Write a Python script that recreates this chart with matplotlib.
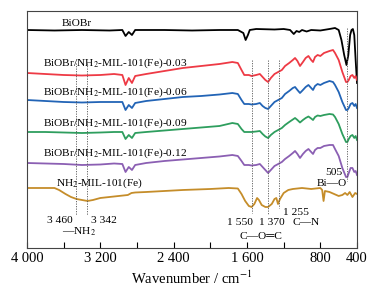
import numpy as np
import matplotlib
matplotlib.use("Agg")
import matplotlib.pyplot as plt

plt.rcParams["font.family"] = ["Liberation Serif", "DejaVu Serif"]
plt.rcParams["mathtext.fontset"] = "stix"

# FTIR spectra, stacked (arbitrary units, higher = more transmittance)
wn_biobr = [4000, 3700, 3400, 3100, 2960, 2925, 2890, 2855, 2820, 2500, 2200, 1900, 1700,
            1640, 1615, 1590, 1570, 1500, 1300, 1200, 1130, 1090, 1060, 1030, 1000, 950,
            900, 800, 700, 640, 600, 570, 540, 515, 495, 475, 460, 445, 430, 415, 400]
t_biobr = [218, 217.5, 218, 217.5, 218, 212, 216, 213, 218, 218, 217.5, 218, 218,
           215, 208, 213, 218, 219, 218.5, 219, 218, 214, 217, 216, 218, 216.5,
           218, 217.5, 219, 220, 218, 208, 193, 183, 193, 213, 218, 219, 213, 188, 165]

wn_comp = [4000, 3800, 3600, 3400, 3200, 3050, 2960, 2925, 2890, 2855, 2820, 2700, 2500,
           2300, 2100, 1900, 1760, 1700, 1660, 1630, 1580, 1550, 1500, 1460, 1430, 1400,
           1370, 1340, 1300, 1260, 1220, 1185, 1140, 1100, 1076, 1050, 1022, 990, 960,
           930, 900, 880, 858, 830, 800, 760, 700, 662, 640, 600, 560, 520, 505, 490,
           470, 450, 430, 415, 400]
t_003 = [175, 174, 173, 172.5, 173, 174, 173, 163, 170, 165, 172, 174, 177,
         180, 182, 184, 186, 185, 178, 173, 173, 172, 173, 174, 171, 168,
         166, 170, 174, 176, 178, 182, 185, 188, 190, 187, 182, 186, 190,
         192, 188, 186, 191, 193, 192, 195, 197, 198, 195, 188, 176, 166, 166, 168,
         172, 173, 170, 172, 168]
t_006 = [148, 147, 146, 145.5, 146, 146, 146, 138, 143, 140, 145, 147, 149,
         151, 152, 153.5, 155, 154, 148, 144, 144, 143.5, 144, 145, 142, 140,
         139, 142, 146, 148, 150, 154, 157, 160, 161, 158, 155, 158, 161,
         163, 160, 158, 162, 164, 163, 165, 167, 166, 163, 156, 146, 138, 138, 140,
         144, 145, 142, 144, 140]
t_009 = [116, 116, 115.5, 115, 115.5, 116, 116, 109, 113, 110, 115, 116, 117.5,
         119, 120.5, 122, 125, 124, 119, 116, 116, 116, 116.5, 117, 114, 111.5,
         110, 113, 116, 118, 120, 123, 126, 128.5, 130, 128, 125.5, 128, 130,
         131.5, 129.5, 128, 131, 132.5, 132, 133, 134, 133.5, 131, 124, 114, 106, 106, 109,
         112, 113, 110, 112, 108]
t_012 = [85, 84.5, 84, 83, 83.5, 84.5, 84, 76, 81, 78, 83, 85, 87,
         88.5, 90, 91.5, 93, 92, 87, 83, 83, 82.5, 83, 84, 81, 78,
         75, 78, 82, 84, 86, 89, 92, 95, 97, 94, 90, 94, 97,
         99, 96, 94, 98, 100, 100, 102, 103, 103, 99, 92, 80, 71, 71, 75,
         80, 80, 76, 77, 73]

wn_mil = [4000, 3700, 3650, 3580, 3520, 3460, 3400, 3340, 3280, 3200, 3100, 3000, 2900,
          2860, 2820, 2700, 2500, 2300, 2000, 1800, 1700, 1660, 1620, 1580, 1550, 1520,
          1490, 1470, 1440, 1400, 1370, 1330, 1300, 1280, 1262, 1240, 1200, 1150, 1100,
          1000, 900, 800, 780, 765, 750, 700, 650, 600, 560, 530, 505, 480, 450, 420, 400]
t_mil = [60, 60, 58, 54, 51, 49, 48, 47, 48, 50, 51, 52, 53,
         55, 55.5, 56, 57, 58, 59, 60, 59.5, 54, 47, 42, 41, 44,
         50, 48, 43, 41, 41, 44, 49, 50, 44, 49, 55, 58, 59,
         60, 59, 60, 58, 47, 57, 56, 54, 52, 53, 55, 53, 56, 51, 55, 54]

series = [
    (wn_biobr, t_biobr, "#000000", "BiOBr", (3620, 224)),
    (wn_comp, t_003, "#ee3a45", "BiOBr/NH$_2$-MIL-101(Fe)-0.03", (3830, 185)),
    (wn_comp, t_006, "#2264b6", "BiOBr/NH$_2$-MIL-101(Fe)-0.06", (3830, 156)),
    (wn_comp, t_009, "#2e9e5e", "BiOBr/NH$_2$-MIL-101(Fe)-0.09", (3830, 125)),
    (wn_comp, t_012, "#8b5fb3", "BiOBr/NH$_2$-MIL-101(Fe)-0.12", (3830, 95)),
    (wn_mil, t_mil, "#c58d2a", "NH$_2$-MIL-101(Fe)", (3680, 65)),
]

fig = plt.figure(figsize=(3.77, 2.91), dpi=100)
ax = fig.add_axes([0.0716, 0.1478, 0.8754, 0.8144])

for wn, t, c, lab, pos in series:
    ax.plot(wn, t, color=c, lw=1.3)
    ax.text(pos[0], pos[1], lab, fontsize=8.2, ha="left", va="center")

# band markers: (wavenumber, y top, y bottom)
bands = [(3460, 185, 33), (3342, 185, 33), (1550, 188, 35), (1370, 188, 33),
         (1255, 188, 40), (505, 220, 67)]
for w, y1, y2 in bands:
    ax.plot([w, w], [y1, y2], ls=(0, (1.5, 1.5)), color="#555555", lw=0.6)

ann = dict(fontsize=8.2, ha="center", va="center")
ax.text(3640, 27, "3 460", **ann)
ax.text(3160, 27, "3 342", **ann)
ax.text(3433, 16, "—NH$_2$", **ann)
ax.text(1676, 25, "1 550", **ann)
ax.text(1333, 25, "1 370", **ann)
ax.text(1066, 35, "1 255", **ann)
ax.text(956, 25, "C—N", **ann)
ax.text(1447, 11, "C—O═C", **ann)
ax.text(651, 75, "505", **ann)
ax.text(673, 64, "Bi—O", **ann)

ticks = list(range(4000, 399, -400))
labeled = [4000, 3200, 2400, 1600, 800, 400]
ax.set_xticks(ticks)
ax.set_xticklabels([f"{t:,}".replace(",", " ") if t in labeled else "" for t in ticks])
ax.tick_params(axis="x", direction="in", length=4, width=0.8, labelsize=10.5, pad=3)
ax.set_yticks([])
ax.set_xlim(4000, 400)
ax.set_ylim(0, 237)
ax.set_xlabel("Wavenumber / cm$^{-1}$", fontsize=10.5, labelpad=3)
for s in ax.spines.values():
    s.set_color("#444444")
    s.set_linewidth(0.8)

fig.savefig("out.png", dpi=100)
